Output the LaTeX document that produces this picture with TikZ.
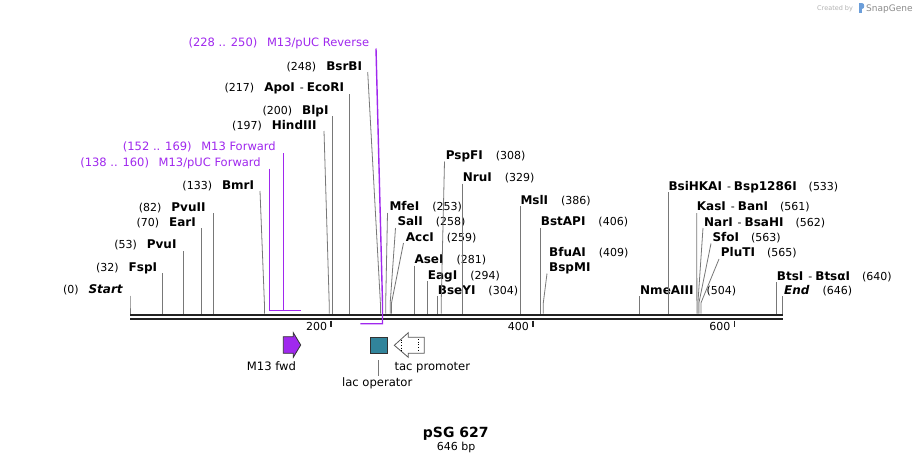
\documentclass[tikz,border=0pt]{standalone}
\usepackage{fontspec}
\setmainfont{DejaVu Sans}[ItalicFont={DejaVu Sans Oblique},BoldFont={DejaVu Sans Bold},BoldItalicFont={DejaVu Sans Bold Oblique}]
\definecolor{sitegray}{RGB}{120,120,120}
\definecolor{primer}{RGB}{160,40,238}
\definecolor{tealbox}{RGB}{49,132,155}
\definecolor{bbone}{RGB}{34,34,34}
\definecolor{outl}{RGB}{50,50,50}
\newcommand\sgnum[1]{{\fontsize{11}{13}\selectfont(#1)}}
\newcommand\sgdash{{\fontsize{11}{13}\selectfont\hspace{5pt}-\hspace{3pt}}}
\tikzset{
  site/.style={draw=sitegray,line width=0.8pt},
  primerline/.style={draw=primer,line width=1.4pt},
  lbl/.style={inner sep=0pt,font=\fontsize{12}{14}\selectfont},
  plbl/.style={inner sep=0pt,text=primer,font=\fontsize{11.5}{13}\selectfont},
  flbl/.style={inner sep=0pt,font=\fontsize{11.6}{13}\selectfont},
  ticklbl/.style={inner sep=0pt,font=\fontsize{11}{13}\selectfont},
  tickmark/.style={draw=bbone,line width=1.6pt},
  backbone/.style={draw=bbone,line width=2.3pt},
}
% left-side site: id, label end x, baseline, content, top coord, site x
\newcommand\sgsiteL[6]{%
  \node[lbl,anchor=base east] (L#1) at (#2,#3) {#4};
  \coordinate (T#1) at #5;
  \coordinate (K#1) at (#6,303);
  \coordinate (B#1) at (#6,313.5);
  \draw[site] (T#1) -- (K#1) -- (B#1);
}
\newcommand\sgsiteR[6]{%
  \node[lbl,anchor=base west] (L#1) at (#2,#3) {#4};
  \coordinate (T#1) at #5;
  \coordinate (K#1) at (#6,303);
  \coordinate (B#1) at (#6,313.5);
  \draw[site] (T#1) -- (K#1) -- (B#1);
}
\begin{document}
\begin{tikzpicture}[x=1pt,y=-1pt]
\useasboundingbox (0,0) rectangle (914,464);
\fill[white] (0,0) rectangle (914,464);

% backbone
\coordinate (bbL1) at (130,315.2); \coordinate (bbR1) at (783,315.2);
\coordinate (bbL2) at (130,319.3); \coordinate (bbR2) at (783,319.3);
\draw[backbone] (bbL1) -- (bbR1);
\draw[backbone] (bbL2) -- (bbR2);

% ticks
\foreach \tx/\tl in {331/200,532.7/400,734.3/600}{
  \coordinate (tkA\tl) at (\tx,320.5);
  \coordinate (tkB\tl) at (\tx,327.2);
  \draw[tickmark] (tkA\tl) -- (tkB\tl);
  \node[ticklbl,anchor=base east] (tkL\tl) at (\tx-3.7,330.7) {\tl};
}

% left-side sites
\sgsiteL{start}{123.3}{293.3}{\sgnum{0}\hspace{10pt}\textbf{\textit{Start}}}{(130,295.5)}{130}
\sgsiteL{fsp}{157.3}{271}{\sgnum{32}\hspace{10pt}\textbf{FspI}}{(162.3,273)}{162.3}
\sgsiteL{pvu}{176.7}{248.7}{\sgnum{53}\hspace{10pt}\textbf{PvuI}}{(183.7,251)}{183.7}
\sgsiteL{ear}{196}{226}{\sgnum{70}\hspace{10pt}\textbf{EarI}}{(201.7,228)}{201.7}
\sgsiteL{pvuii}{205.7}{211}{\sgnum{82}\hspace{10pt}\textbf{PvuII}}{(213.7,213)}{213.7}
\sgsiteL{bmr}{254.3}{189}{\sgnum{133}\hspace{10pt}\textbf{BmrI}}{(260,191)}{264.4}
\sgsiteL{hind}{316.7}{129}{\sgnum{197}\hspace{10pt}\textbf{HindIII}}{(324,131)}{329.2}
\sgsiteL{blp}{328.7}{114}{\sgnum{200}\hspace{10pt}\textbf{BlpI}}{(332.5,116)}{332.5}
\sgsiteL{apo}{344.3}{91.3}{\sgnum{217}\hspace{10pt}\textbf{ApoI}\sgdash\textbf{EcoRI}}{(349.3,94)}{349.3}
\sgsiteL{bsr}{362.3}{70}{\sgnum{248}\hspace{10pt}\textbf{BsrBI}}{(367.7,72)}{380.4}

% right-side sites
\sgsiteR{mfe}{389.3}{210.7}{\textbf{MfeI}\hspace{13pt}\sgnum{253}}{(387.5,213)}{385.7}
\sgsiteR{sal}{397.3}{225.7}{\textbf{SalI}\hspace{13pt}\sgnum{258}}{(395.5,228)}{390.2}
\sgsiteR{acc}{405.7}{241}{\textbf{AccI}\hspace{13pt}\sgnum{259}}{(403.5,243)}{391.5}
\sgsiteR{ase}{414.3}{263.3}{\textbf{AseI}\hspace{13pt}\sgnum{281}}{(414.3,265.5)}{414.3}
\sgsiteR{eag}{427.7}{279}{\textbf{EagI}\hspace{13pt}\sgnum{294}}{(427.7,281)}{427.7}
\sgsiteR{bsey}{437.7}{294}{\textbf{BseYI}\hspace{13pt}\sgnum{304}}{(437.7,296)}{437.7}
\sgsiteR{pspf}{445.7}{159.3}{\textbf{PspFI}\hspace{13pt}\sgnum{308}}{(444.5,161.5)}{441.2}
\sgsiteR{nru}{462.7}{181.3}{\textbf{NruI}\hspace{13pt}\sgnum{329}}{(462.5,183.5)}{462.5}
\sgsiteR{msl}{520.3}{204}{\textbf{MslI}\hspace{13pt}\sgnum{386}}{(520.3,206)}{520.3}
\sgsiteR{bstap}{540.7}{225.7}{\textbf{BstAPI}\hspace{13pt}\sgnum{406}}{(540.5,228)}{540.5}
\sgsiteR{bfua}{549}{256}{\textbf{BfuAI}\hspace{13pt}\sgnum{409}}{(547,273.5)}{543.3}
\node[lbl,anchor=base west] (Lbspm) at (549,271) {\textbf{BspMI}};
\sgsiteR{nme}{640}{294}{\textbf{NmeAIII}\hspace{13pt}\sgnum{504}}{(639.3,296)}{639.3}
\sgsiteR{bsihk}{668.3}{190}{\textbf{BsiHKAI}\sgdash\textbf{Bsp1286I}\hspace{12pt}\sgnum{533}}{(668.6,192)}{668.6}
\sgsiteR{kas}{696.7}{210.7}{\textbf{KasI}\sgdash\textbf{BanI}\hspace{12pt}\sgnum{561}}{(696.7,213)}{696.9}
\sgsiteR{nar}{704}{226}{\textbf{NarI}\sgdash\textbf{BsaHI}\hspace{12pt}\sgnum{562}}{(703,228)}{697.9}
\sgsiteR{sfo}{712.3}{241.3}{\textbf{SfoI}\hspace{12pt}\sgnum{563}}{(711,243.5)}{698.9}
\sgsiteR{plu}{720.7}{256.7}{\textbf{PluTI}\hspace{12pt}\sgnum{565}}{(719,259)}{700.9}
\sgsiteR{bts}{776.7}{280}{\textbf{BtsI}\sgdash\textbf{BtsαI}\hspace{12pt}\sgnum{640}}{(776.7,282)}{776.7}
\sgsiteR{end}{784}{294}{\textbf{\textit{End}}\hspace{13pt}\sgnum{646}}{(782.8,296)}{782.8}

% primers
\node[plbl,anchor=base east] (Prev) at (369.3,46) {(228 .. 250)\hspace{9.7pt}M13/pUC Reverse};
\coordinate (PrevT) at (376,48.5);
\coordinate (PrevK) at (382.5,303);
\coordinate (PrevB) at (382.5,323.7);
\coordinate (PrevE) at (360.4,323.7);
\draw[primerline] (PrevT) -- (PrevK) -- (PrevB) -- (PrevE);

\node[plbl,anchor=base east] (Pm13) at (276,150.7) {(152 .. 169)\hspace{9.7pt}M13 Forward};
\coordinate (Pm13T) at (283.6,153);
\coordinate (Pm13B) at (283.6,310.7);
\coordinate (Pm13E) at (300.8,310.7);
\draw[primerline] (Pm13T) -- (Pm13B) -- (Pm13E);

\node[plbl,anchor=base east] (Ppuc) at (261,166) {(138 .. 160)\hspace{9.7pt}M13/pUC Forward};
\coordinate (PpucT) at (269.4,168.5);
\coordinate (PpucB) at (269.4,310.7);
\coordinate (PpucE) at (291.7,310.7);
\draw[primerline] (PpucT) -- (PpucB) -- (PpucE);

% features
\draw[fill=primer,draw=outl,line width=0.8pt] (283.3,336.7) -- (293.3,336.7) -- (293.3,332.7) -- (300.7,345) -- (293.3,357.3) -- (293.3,353.3) -- (283.3,353.3) -- cycle;
\node[flbl,anchor=base west] (Fm13) at (246.7,370) {M13 fwd};

\draw[fill=tealbox,draw=outl,line width=0.8pt] (370.7,337.3) rectangle (387.7,353.3);
\coordinate (lacA) at (378.7,360);
\coordinate (lacB) at (378.7,375.5);
\draw[draw=sitegray,line width=0.8pt] (lacA) -- (lacB);
\node[flbl,anchor=base] (Flac) at (377.2,386) {lac operator};

\draw[fill=white,draw=black!65,line width=0.8pt] (394.3,345.3) -- (408.3,332.7) -- (408.3,337.3) -- (424.3,337.3) -- (424.3,353.3) -- (408.3,353.3) -- (408.3,357.3) -- cycle;
\draw[black,line width=0.7pt,dotted] (401.7,339.5) -- (401.7,351.5);
\draw[black,line width=0.7pt,dotted] (418.3,339) -- (418.3,352);
\node[flbl,anchor=base west] (Ftac) at (394.3,370.7) {tac promoter};

% title
\node[inner sep=0pt,anchor=base,font=\fontsize{14}{16}\selectfont\bfseries] (title) at (455.8,437.7) {pSG 627};
\node[inner sep=0pt,anchor=base,font=\fontsize{11}{13}\selectfont] (sub) at (456.2,450.7) {646 bp};

% watermark
\node[inner sep=0pt,anchor=base west,text=black!30,font=\fontsize{6.5}{7}\selectfont] (wm1) at (817,10.5) {Created by};
\fill[cyan!55!blue!60] (858.5,3) rectangle (861.5,13);
\fill[cyan!55!blue!60] (861.5,3) .. controls (865,3) and (865,9) .. (861.5,9) -- cycle;
\node[inner sep=0pt,anchor=base west,text=black!45,font=\fontsize{9}{10}\selectfont] (wm2) at (866,11) {SnapGene};
\end{tikzpicture}
\end{document}
